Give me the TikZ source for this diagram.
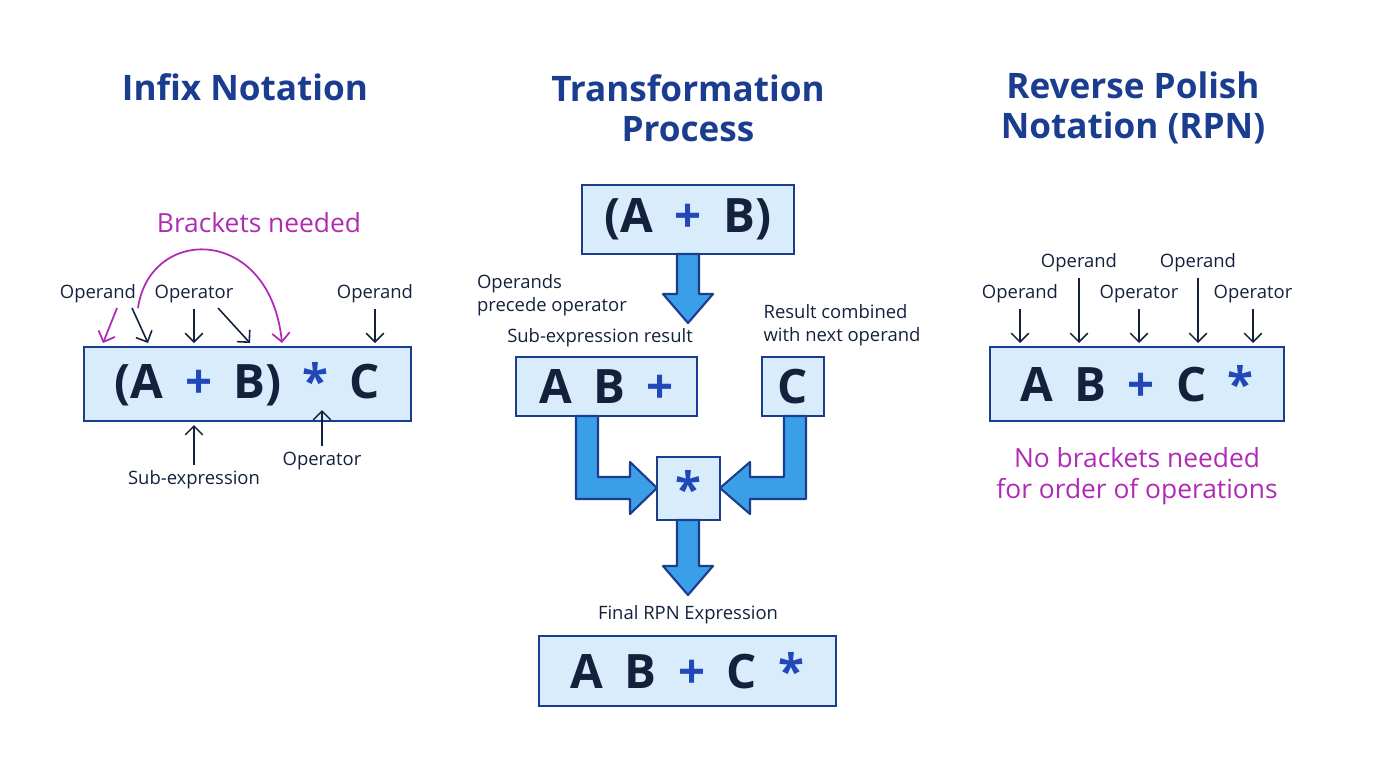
\documentclass[tikz,border=0pt]{standalone}
\usepackage{fontspec}
\setmainfont{Open Sans}
\usetikzlibrary{positioning,arrows.meta}
\definecolor{navy}{HTML}{1B3D8F}
\definecolor{boxfill}{HTML}{D8ECFB}
\definecolor{dark}{HTML}{14213D}
\definecolor{opblue}{HTML}{2148B8}
\definecolor{arrowblue}{HTML}{3A9FE6}
\definecolor{purp}{HTML}{B02BB5}
\tikzset{
  title/.style={font=\fontsize{20}{23}\selectfont\bfseries, text=navy, align=center},
  expr/.style={draw=navy, line width=1.4pt, fill=boxfill, font=\fontsize{27}{30}\selectfont\bfseries, text=dark, inner sep=0pt},
  lbl/.style={font=\fontsize{10.5}{13}\selectfont, text=dark, align=left},
  note/.style={font=\fontsize{15}{18}\selectfont, text=purp, align=center},
  ptr/.style={-{Straight Barb[length=5pt]}, line width=0.9pt, draw=dark},
  pptr/.style={-{Straight Barb[length=5pt]}, line width=1pt, draw=purp},
  fat/.style={fill=arrowblue, draw=navy, line width=1.2pt, line join=round}
}
\newcommand{\op}[1]{\textcolor{opblue}{#1}}
\newcommand{\gap}{\hspace{0.45em}}
\begin{document}
\begin{tikzpicture}[x=0.02cm,y=-0.02cm]
\useasboundingbox (0,0) rectangle (1376,768);

% titles
\node[title] (tin) at (245,87) {Infix Notation};
\node[title] (ttr) at (688,108) {Transformation\\Process};
\node[title] (trp) at (1133,108) {Reverse Polish\\Notation (RPN)};

% infix side
\node[expr, minimum width=327*0.02cm, minimum height=74*0.02cm] (infix) at (247.5,384) {(A\gap\op{+}\gap B)\gap\op{*}\gap C};
\node[note] (brk) at (259,223) {Brackets needed};
\node[lbl] (ia) at (98,294) {Operand};
\node[lbl] (io) at (194,294) {Operator};
\node[lbl] (ib) at (375,294) {Operand};
\node[lbl] (isub) at (194,480) {Sub-expression};
\node[lbl] (iop) at (322,461) {Operator};
\draw[pptr] (117,308) -- (103,343);
\draw[pptr] (138,308) .. controls (150,225) and (270,225) .. (282,343);
\draw[ptr] (132,308) -- (148,343);
\draw[ptr] (io.south) -- (194,343);
\draw[ptr] (218,308) -- (250,343);
\draw[ptr] (ib.south) -- (375,343);
\draw[ptr] (isub.north) -- (194,425);
\draw[ptr] (iop.north) -- (322,410);

% transformation
\node[expr, minimum width=212*0.02cm, minimum height=69*0.02cm] (ab) at (688,219.5) {(A\gap\op{+}\gap B)};
\node[lbl] (prec) at (552,295) {Operands\\precede operator};
\node[lbl] (subr) at (600,338) {Sub-expression result};
\node[expr, minimum width=181*0.02cm, minimum height=59*0.02cm] (abp) at (606.5,386.5) {A\gap B\gap\op{+}};
\node[lbl] (comb) at (842,325) {Result combined\\with next operand};
\node[expr, minimum width=62*0.02cm, minimum height=59*0.02cm] (c) at (793,386.5) {C};
\node[expr, minimum width=63*0.02cm, minimum height=63*0.02cm] (star) at (688.5,488.5) {\op{*}};
\node[lbl] (fin) at (688,615) {Final RPN Expression};
\node[expr, minimum width=297*0.02cm, minimum height=70*0.02cm] (res) at (687.5,671) {A\gap B\gap\op{+}\gap C\gap\op{*}};

\draw[fat] (677,254) -- (699,254) -- (699,294) -- (713,294) -- (688,323) -- (663,294) -- (677,294) -- cycle;
\draw[fat] (677,520) -- (699,520) -- (699,566) -- (713,566) -- (688,595) -- (663,566) -- (677,566) -- cycle;
\draw[fat] (576,416) -- (598,416) -- (598,477) -- (630,477) -- (630,462) -- (657,488) -- (630,514) -- (630,499) -- (576,499) -- cycle;
\draw[fat] (806,416) -- (784,416) -- (784,477) -- (750,477) -- (750,462) -- (720,488) -- (750,514) -- (750,499) -- (806,499) -- cycle;

% RPN side
\node[expr, minimum width=294*0.02cm, minimum height=74*0.02cm] (rpn) at (1137,384) {A\gap B\gap\op{+}\gap C\gap\op{*}};
\node[lbl] (r1) at (1020,294) {Operand};
\node[lbl] (r2) at (1079,263) {Operand};
\node[lbl] (r3) at (1139,294) {Operator};
\node[lbl] (r4) at (1198,263) {Operand};
\node[lbl] (r5) at (1253,294) {Operator};
\foreach \n/\x in {r1/1020,r2/1079,r3/1139,r4/1198,r5/1253}
  \draw[ptr] (\n.south) -- (\x,343);
\node[note] (nob) at (1137,476) {No brackets needed\\for order of operations};
\end{tikzpicture}
\end{document}
